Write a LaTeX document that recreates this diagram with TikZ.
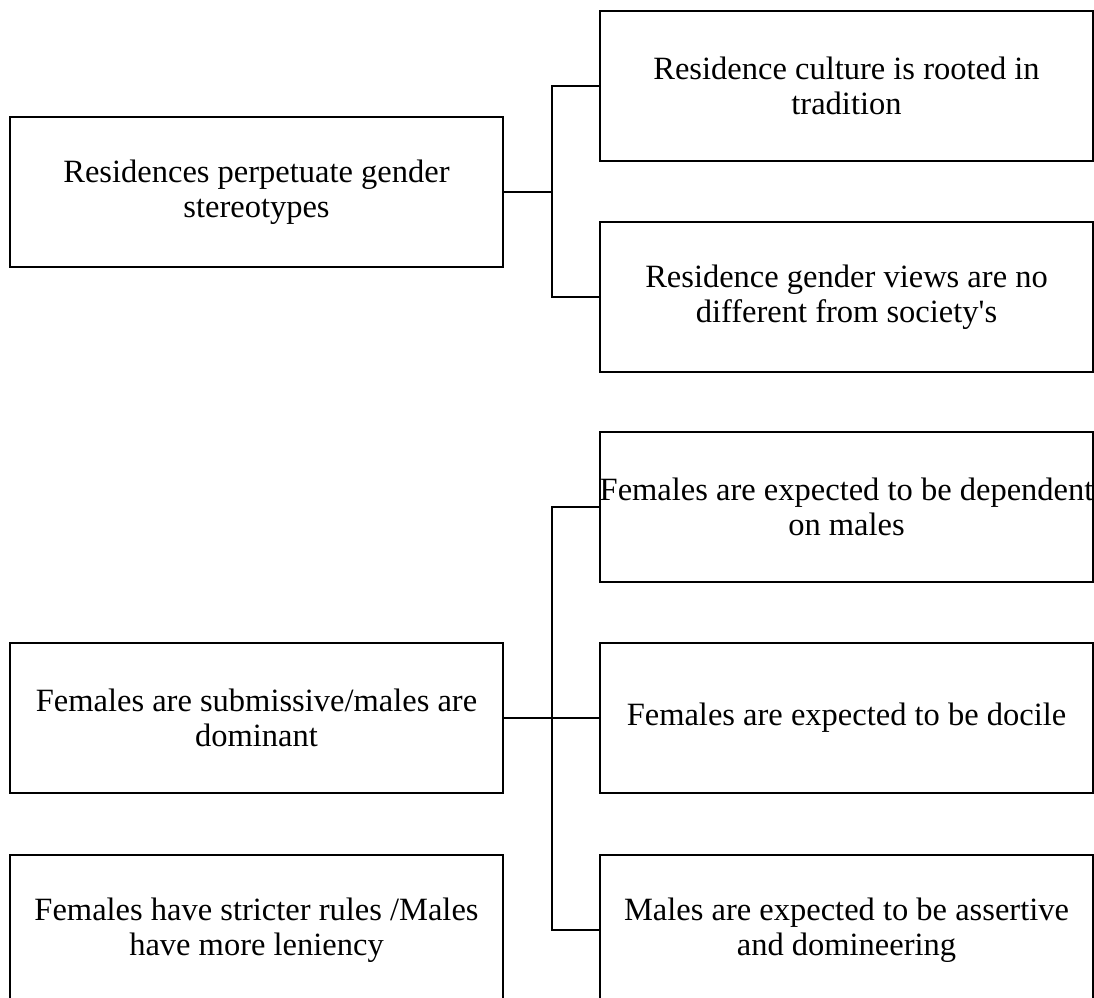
\documentclass[tikz,border=0pt]{standalone}
\usepackage{fontspec}
\setmainfont{Liberation Serif}
\begin{document}
\begin{tikzpicture}
  [x=0.02cm,y=-0.02cm,line width=1.2pt,
   every node/.style={draw,rectangle,minimum width=9.86cm,minimum height=3cm,
     align=center,inner sep=0pt,font=\fontsize{18.5}{20}\selectfont}]
  \useasboundingbox (0,0) rectangle (1094,997);
  \node (top)   at (256.5,192) {Residences perpetuate gender\\stereotypes};
  \node (trad)  at (846.5,86)  {Residence culture is rooted in\\tradition};
  \node (soc)   at (846.5,297) {Residence gender views are no\\different from society\textquotesingle s};

  \node (sub)   at (256.5,718) {Females are submissive/males are\\dominant};
  \node (rules) at (256.5,930) {Females have stricter rules /Males\\have more leniency};
  \node (dep)   at (846.5,507) {Females are expected to be dependent\\on males};
  \node (doc)   at (846.5,718) {Females are expected to be docile};
  \node (ass)   at (846.5,930) {Males are expected to be assertive\\and domineering};

  \coordinate (j1) at (552,192);
  \coordinate (j2) at (552,718);

  \draw (top.east) -- (j1);
  \foreach \to in {trad,soc}
    \draw (j1) |- (\to.west);

  \draw (sub.east) -- (j2);
  \foreach \to in {dep,doc,ass}
    \draw (j2) |- (\to.west);

\end{tikzpicture}
\end{document}
